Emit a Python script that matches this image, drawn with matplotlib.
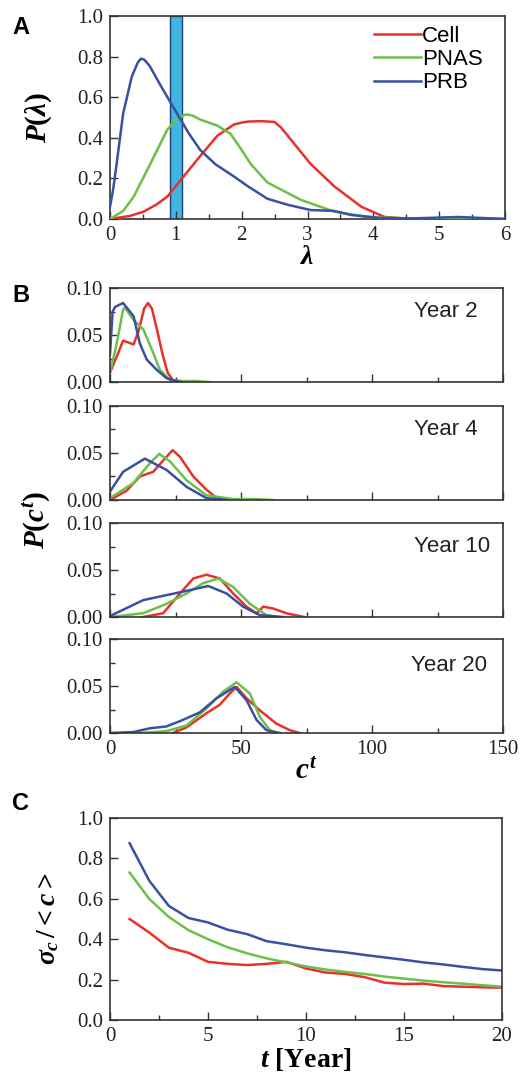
"""Recreation of the lambda / citation distribution figure (panels A-C)."""

import matplotlib
matplotlib.use("Agg")
import matplotlib.pyplot as plt
from matplotlib.ticker import MultipleLocator

plt.rcParams["font.family"] = ["Liberation Serif", "DejaVu Serif"]
plt.rcParams["mathtext.fontset"] = "custom"
plt.rcParams["mathtext.it"] = "Liberation Serif:italic:bold"
plt.rcParams["mathtext.rm"] = "Liberation Serif:bold"
plt.rcParams["mathtext.bf"] = "Liberation Serif:bold"

RED = "#e8312b"
GREEN = "#6cc04a"
BLUE = "#3a50a3"
SERIES = ["Cell", "PNAS", "PRB"]
COLORS = [RED, GREEN, BLUE]

# ---- panel A: P(lambda)
lam_cell = [0, 0.3, 0.51, 0.7, 0.87, 1.12, 1.37, 1.63, 1.88, 2.0, 2.1, 2.3, 2.5, 2.6, 2.75, 3.05, 3.41, 3.82, 4.17, 4.5, 5.0, 6.0]
p_cell = [0.0, 0.015, 0.036, 0.07, 0.11, 0.21, 0.31, 0.41, 0.465, 0.475, 0.48, 0.482, 0.478, 0.45, 0.39, 0.27, 0.16, 0.06, 0.01, 0.002, 0.0, 0.0]
lam_pnas = [0, 0.2, 0.36, 0.61, 0.87, 1.0, 1.15, 1.25, 1.37, 1.63, 1.83, 2.0, 2.14, 2.39, 2.9, 3.41, 3.92, 4.5, 5.0, 6.0]
p_pnas = [0.0, 0.04, 0.11, 0.27, 0.44, 0.49, 0.515, 0.51, 0.49, 0.46, 0.42, 0.34, 0.27, 0.18, 0.094, 0.036, 0.01, 0.003, 0.002, 0.0]
lam_prb = [0, 0.05, 0.1, 0.2, 0.33, 0.42, 0.47, 0.52, 0.6, 0.8, 1.0, 1.2, 1.37, 1.6, 1.88, 2.1, 2.39, 2.7, 3.05, 3.4, 3.66, 4.1, 4.6, 5.3, 6.0]
p_prb = [0.06, 0.15, 0.27, 0.52, 0.7, 0.77, 0.79, 0.785, 0.755, 0.64, 0.53, 0.42, 0.34, 0.27, 0.21, 0.16, 0.10, 0.07, 0.044, 0.04, 0.02, 0.005, 0.003, 0.01, 0.0]
band_lo, band_hi = 0.91, 1.09

# ---- panel B: P(c^t) at years 2, 4, 10, 20
years = [2, 4, 10, 20]
c_y2_cell = [0, 3, 5, 7, 9, 11, 13, 14.5, 16, 18, 20, 22, 24, 26]
p_y2_cell = [0.01, 0.03, 0.044, 0.042, 0.04, 0.055, 0.078, 0.084, 0.078, 0.055, 0.03, 0.01, 0.002, 0.0]
c_y2_pnas = [0, 2.5, 5, 5.7, 9, 12.7, 16.5, 19, 23, 28, 33, 38]
p_y2_pnas = [0.01, 0.04, 0.077, 0.079, 0.066, 0.056, 0.031, 0.013, 0.002, 0.001, 0.001, 0.0]
c_y2_prb = [0, 1, 2, 5, 9, 11.4, 14, 17.8, 21.6, 25.4, 27]
p_y2_prb = [0.03, 0.075, 0.08, 0.084, 0.07, 0.041, 0.024, 0.013, 0.004, 0.001, 0.0]

c_y4_cell = [0, 6.4, 11.4, 16.5, 20.3, 23.9, 26.7, 31.8, 36.8, 40.7, 44]
p_y4_cell = [0.0, 0.01, 0.025, 0.03, 0.042, 0.053, 0.046, 0.025, 0.011, 0.002, 0.0]
c_y4_pnas = [0, 8.9, 15.2, 18.8, 22.9, 29.2, 36.8, 47, 55, 62]
p_y4_pnas = [0.002, 0.018, 0.039, 0.049, 0.041, 0.021, 0.005, 0.001, 0.001, 0.0]
c_y4_prb = [0, 5, 13.3, 21.6, 29.2, 36.8, 44.5]
p_y4_prb = [0.009, 0.03, 0.044, 0.032, 0.014, 0.002, 0.0]

c_y10_cell = [12.7, 20.3, 26.7, 31.8, 36.8, 41.9, 47, 52.1, 55.9, 58.5, 62.3, 67.3, 74]
p_y10_cell = [0.0, 0.004, 0.025, 0.041, 0.045, 0.041, 0.025, 0.011, 0.004, 0.011, 0.009, 0.004, 0.0]
c_y10_pnas = [0, 12.7, 21.6, 29.2, 35.6, 41.3, 47, 53.4, 59.7, 64]
p_y10_pnas = [0.0, 0.004, 0.014, 0.025, 0.036, 0.041, 0.032, 0.014, 0.002, 0.0]
c_y10_prb = [0, 12.7, 27.9, 37.5, 44.5, 50.8, 57.2, 66]
p_y10_prb = [0.001, 0.018, 0.027, 0.033, 0.025, 0.011, 0.002, 0.0]

c_y20_cell = [24, 29.2, 36.8, 41.9, 45.7, 48.3, 52.1, 57.2, 63.5, 68.6, 72.4]
p_y20_cell = [0.0, 0.006, 0.021, 0.03, 0.042, 0.049, 0.037, 0.024, 0.01, 0.003, 0.0]
c_y20_pnas = [11.4, 21.6, 29.2, 36.8, 43.2, 48.3, 53.4, 57.2, 61, 63.5]
p_y20_pnas = [0.0, 0.002, 0.008, 0.026, 0.044, 0.054, 0.042, 0.017, 0.003, 0.0]
c_y20_prb = [0, 8.9, 15.2, 21.6, 27.9, 34.3, 40.7, 47.6, 52.1, 55.9, 59.7, 64.8]
p_y20_prb = [0.0, 0.001, 0.005, 0.007, 0.014, 0.022, 0.037, 0.049, 0.035, 0.014, 0.003, 0.0]

# ---- panel C: sigma_c / <c> vs t
t_years = list(range(1, 21))
cv_cell = [0.50, 0.433, 0.358, 0.333, 0.288, 0.278, 0.272, 0.278, 0.288, 0.255,
           0.235, 0.228, 0.212, 0.185, 0.178, 0.18, 0.168, 0.165, 0.162, 0.16]
cv_pnas = [0.73, 0.60, 0.51, 0.445, 0.40, 0.36, 0.33, 0.305, 0.285, 0.265,
           0.25, 0.238, 0.228, 0.215, 0.205, 0.195, 0.187, 0.18, 0.172, 0.165]
cv_prb = [0.875, 0.69, 0.565, 0.505, 0.483, 0.447, 0.425, 0.39, 0.375, 0.358,
          0.345, 0.335, 0.322, 0.31, 0.298, 0.285, 0.275, 0.263, 0.252, 0.245]

W, H = 522, 1075
SANS = "Liberation Sans"


def add_px_axes(fig, left, top, right, bottom):
    """Add axes given pixel edges measured from the top-left corner."""
    return fig.add_axes([left / W, 1 - bottom / H, (right - left) / W, (bottom - top) / H])


def style_axes(ax):
    for sp in ax.spines.values():
        sp.set_color("#333333")
        sp.set_linewidth(1.2)
    ax.tick_params(which="both", direction="in", top=False, right=False,
                   color="#333333", labelsize=15, labelcolor="#222222")
    ax.tick_params(which="major", length=6, width=1.0, pad=5)
    ax.tick_params(which="minor", length=3.5, width=1.0)


fig = plt.figure(figsize=(W / 100, H / 100), dpi=100)

# panel A
ax_a = add_px_axes(fig, 110, 16, 505, 219)
ax_a.axvspan(band_lo, band_hi, facecolor="#3fb6e2", edgecolor="#1f3f73", lw=1.0, zorder=1)
ax_a.plot(lam_cell, p_cell, color=RED, lw=1.8, label="Cell", zorder=3)
ax_a.plot(lam_pnas, p_pnas, color=GREEN, lw=1.8, label="PNAS", zorder=3)
ax_a.plot(lam_prb, p_prb, color=BLUE, lw=1.8, label="PRB", zorder=3)
ax_a.set_xlim(0, 6)
ax_a.set_ylim(0, 1.0)
ax_a.xaxis.set_major_locator(MultipleLocator(1))
ax_a.xaxis.set_minor_locator(MultipleLocator(0.5))
ax_a.set_yticks([0, 0.2, 0.4, 0.6, 0.8, 1.0])
ax_a.set_yticklabels(["0.0", "0.2", "0.4", "0.6", "0.8", "1.0"])
ax_a.legend(loc="upper right", frameon=False, handlelength=2.1, handletextpad=0.05,
            labelspacing=0.1, borderaxespad=0.2, bbox_to_anchor=(0.978, 1.017),
            prop={"family": SANS, "size": 16})
ax_a.set_ylabel(r"$P(\lambda)$", fontsize=21)
ax_a.yaxis.set_label_coords(-0.142, 0.5)
ax_a.set_xlabel(r"$\lambda$", fontsize=20, labelpad=0)
style_axes(ax_a)

# panel B
b_tops = [288, 406, 523, 639]
b_curves = [
    [(c_y2_cell, p_y2_cell), (c_y2_pnas, p_y2_pnas), (c_y2_prb, p_y2_prb)],
    [(c_y4_cell, p_y4_cell), (c_y4_pnas, p_y4_pnas), (c_y4_prb, p_y4_prb)],
    [(c_y10_cell, p_y10_cell), (c_y10_pnas, p_y10_pnas), (c_y10_prb, p_y10_prb)],
    [(c_y20_cell, p_y20_cell), (c_y20_pnas, p_y20_pnas), (c_y20_prb, p_y20_prb)],
]
year_pos = [(0.936, 0.745), (0.936, 0.745), (0.967, 0.748), (0.96, 0.72)]
b_axes = []
for i, (top, curves) in enumerate(zip(b_tops, b_curves)):
    ax = add_px_axes(fig, 110, top, 503, top + 94)
    for (cx, py), col in zip(curves, COLORS):
        ax.plot(cx, py, color=col, lw=1.8)
    ax.set_xlim(0, 150)
    ax.set_ylim(0, 0.10)
    ax.xaxis.set_major_locator(MultipleLocator(50))
    ax.xaxis.set_minor_locator(MultipleLocator(25))
    ax.set_yticks([0, 0.05, 0.10])
    ax.set_yticklabels(["0.00", "0.05", "0.10"])
    ax.yaxis.set_minor_locator(MultipleLocator(0.025))
    if i < 3:
        ax.tick_params(axis="x", labelbottom=False)
    ax.text(year_pos[i][0], year_pos[i][1], f"Year {years[i]}", transform=ax.transAxes,
            ha="right", va="center", family=SANS, fontsize=16, color="#222222")
    style_axes(ax)
    b_axes.append(ax)
b_axes[-1].set_xlabel(r"$c^t$", fontsize=21, labelpad=0)
fig.text(37 / W, 1 - 520 / H, r"$P(c^t)$", rotation=90, ha="center", va="center", fontsize=21)

# panel C
ax_c = add_px_axes(fig, 110, 818, 502, 1020)
ax_c.plot(t_years, cv_cell, color=RED, lw=1.8)
ax_c.plot(t_years, cv_pnas, color=GREEN, lw=1.8)
ax_c.plot(t_years, cv_prb, color=BLUE, lw=1.8)
ax_c.set_xlim(0, 20)
ax_c.set_ylim(0, 1.0)
ax_c.xaxis.set_major_locator(MultipleLocator(5))
ax_c.xaxis.set_minor_locator(MultipleLocator(2.5))
ax_c.set_yticks([0, 0.2, 0.4, 0.6, 0.8, 1.0])
ax_c.set_yticklabels(["0.0", "0.2", "0.4", "0.6", "0.8", "1.0"])
ax_c.set_xlabel(r"$t$ [Year]", fontsize=20, fontweight="bold", labelpad=0)
ax_c.set_ylabel(r"$\sigma_c\, /{<}c{>}$", fontsize=20)
ax_c.yaxis.set_label_coords(-0.125, 0.5)
style_axes(ax_c)

# panel letters
for letter, ypx in [("A", 28), ("B", 296), ("C", 804)]:
    fig.text(12 / W, 1 - ypx / H, letter, ha="left", va="center",
             family=SANS, fontsize=17, fontweight="bold")

fig.savefig("out.png", dpi=100)
plt.close(fig)
